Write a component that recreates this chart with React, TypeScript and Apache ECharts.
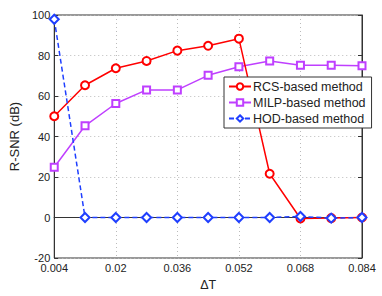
import React, { useEffect, useRef } from "react";
import * as echarts from "echarts";

const xValues = [0.004, 0.012, 0.02, 0.028, 0.036, 0.044, 0.052, 0.06, 0.068, 0.076, 0.084];
const rcsValues = [50, 65.3, 73.7, 77.3, 82.4, 84.8, 88.3, 21.6, -0.5, -0.3, 0];
const milpValues = [24.8, 45.3, 56.3, 63, 63, 70.2, 74.4, 77.3, 75.2, 75.2, 74.9];
const hodValues = [97.9, 0, 0, 0, 0, 0, 0, 0, 0.5, -0.3, 0];
const seriesNames = ["RCS-based method", "MILP-based method", "HOD-based method"];

const FONT = "'Liberation Sans', Arial, Helvetica, sans-serif";

export default function App() {
  const ref = useRef<HTMLDivElement>(null);
  useEffect(() => {
    if (!ref.current) return;
    const chart = echarts.init(ref.current, null, { renderer: "svg" });
    const pair = (ys: number[]) => xValues.map((x, i) => [x, ys[i]]);
    const labelStyle = { color: "#222", fontSize: 11, fontFamily: FONT };
    chart.setOption({
      animation: false,
      backgroundColor: "#fff",
      textStyle: { fontFamily: FONT },
      grid: { left: 46, right: 20, top: 15, bottom: 31, show: true, borderColor: "#333", borderWidth: 1 },
      legend: {
        data: seriesNames,
        orient: "vertical",
        left: 224,
        top: 77,
        width: 135,
        itemWidth: 22,
        itemHeight: 8,
        itemGap: 3,
        padding: [3, 6, 3, 4],
        backgroundColor: "#fff",
        borderColor: "#333",
        borderWidth: 1,
        textStyle: { ...labelStyle, fontSize: 12.5, padding: [0, 0, 0, -3] },
      },
      xAxis: [
        {
          type: "value",
          min: 0.004,
          max: 0.084,
          interval: 0.016,
          name: "\u0394T",
          nameLocation: "middle",
          nameGap: 20,
          nameTextStyle: { ...labelStyle, fontSize: 12.5 },
          axisLine: { show: true, lineStyle: { color: "#333" } },
          axisTick: { show: true, inside: true, length: 4, lineStyle: { color: "#333" } },
          axisLabel: { ...labelStyle, margin: 4, formatter: (v: number) => String(+v.toFixed(3)) },
          splitLine: { show: true, lineStyle: { type: [1, 3], color: "#bbb" } },
        },
        {
          type: "value",
          position: "top",
          min: 0.004,
          max: 0.084,
          interval: 0.016,
          axisLine: { show: true, lineStyle: { color: "#333" } },
          axisTick: { show: true, inside: true, length: 4, lineStyle: { color: "#333" } },
          axisLabel: { show: false },
          splitLine: { show: false },
        },
      ],
      yAxis: [
        {
          type: "value",
          min: -20,
          max: 100,
          interval: 20,
          name: "R-SNR (dB)",
          nameLocation: "middle",
          nameGap: 29,
          nameTextStyle: { ...labelStyle, fontSize: 13 },
          axisLine: { show: true, lineStyle: { color: "#333" } },
          axisTick: { show: true, inside: true, length: 4, lineStyle: { color: "#333" } },
          axisLabel: { ...labelStyle, margin: 4 },
          splitLine: { show: true, lineStyle: { type: [1, 3], color: "#bbb" } },
        },
        {
          type: "value",
          position: "right",
          min: -20,
          max: 100,
          interval: 20,
          axisLine: { show: true, lineStyle: { color: "#333" } },
          axisTick: { show: true, inside: true, length: 4, lineStyle: { color: "#333" } },
          axisLabel: { show: false },
          splitLine: { show: false },
        },
      ],
      series: [
        {
          name: seriesNames[0],
          type: "line",
          data: pair(rcsValues),
          color: "#ff0000",
          symbol: "emptyCircle",
          symbolSize: 8,
          lineStyle: { width: 1.5, color: "#ff0000" },
          itemStyle: { color: "#ff0000", borderWidth: 1.3 },
          z: 3,
        },
        {
          name: seriesNames[1],
          type: "line",
          data: pair(milpValues),
          color: "#bf3fff",
          symbol: "emptyRect",
          symbolSize: 7,
          lineStyle: { width: 1.5, color: "#bf3fff" },
          itemStyle: { color: "#bf3fff", borderWidth: 1.3 },
          z: 2,
        },
        {
          name: seriesNames[2],
          type: "line",
          data: pair(hodValues),
          color: "#1f3fff",
          symbol: "emptyDiamond",
          symbolSize: 9,
          lineStyle: { width: 1.5, color: "#1f3fff", type: [5, 3] },
          itemStyle: { color: "#1f3fff", borderWidth: 1.3 },
          z: 4,
        },
      ],
    });
    return () => chart.dispose();
  }, []);
  return <div ref={ref} style={{ width: 382, height: 296, position: "absolute", left: 0, top: 0 }} />;
}
